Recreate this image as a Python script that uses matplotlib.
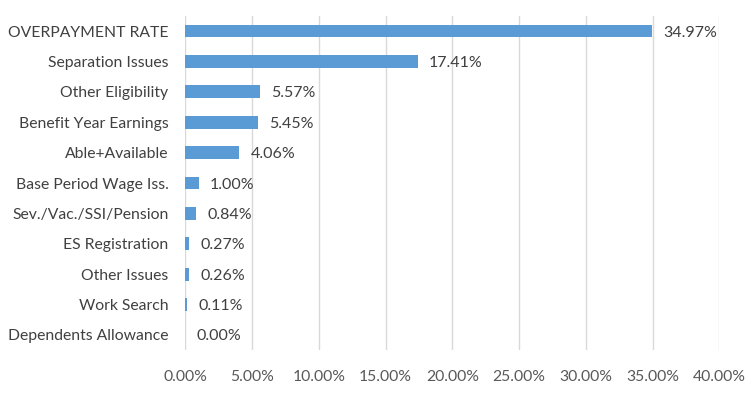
import matplotlib
matplotlib.use("Agg")
import matplotlib.pyplot as plt
from matplotlib.ticker import FuncFormatter

categories = ["OVERPAYMENT RATE", "Separation Issues", "Other Eligibility",
              "Benefit Year Earnings", "Able+Available", "Base Period Wage Iss.",
              "Sev./Vac./SSI/Pension", "ES Registration", "Other Issues",
              "Work Search", "Dependents Allowance"]
rates = [34.97, 17.41, 5.57, 5.45, 4.06, 1.00, 0.84, 0.27, 0.26, 0.11, 0.00]
xticks = [0, 5, 10, 15, 20, 25, 30, 35, 40]

plt.rcParams['font.family'] = ['Lato', 'DejaVu Sans']

fig = plt.figure(figsize=(7.5, 3.97), dpi=100)
ax = fig.add_axes([0.247, 0.118, 0.712, 0.842])

y = list(range(len(categories)))[::-1]
ax.barh(y, rates, height=0.42, color="#5B9BD5", zorder=3)

for yi, v in zip(y, rates):
    ax.text(v + 0.85, yi - 0.05, f"{v:.2f}%", va="center", ha="left",
            fontsize=11.5, color="#404040")

ax.set_yticks(y)
ax.set_yticklabels(categories, fontsize=11.3, color="#404040")
ax.set_ylim(-0.5, len(categories) - 0.5)
ax.set_xlim(0, 40)
ax.set_xticks(xticks)
ax.xaxis.set_major_formatter(FuncFormatter(lambda v, p: f"{v:.2f}%"))
ax.tick_params(axis="x", labelsize=11.3, labelcolor="#595959", length=0, pad=14)
ax.tick_params(axis="y", length=0, pad=12)
ax.grid(axis="x", color="#D9D9D9", linewidth=1, zorder=0)
for s in ax.spines.values():
    s.set_visible(False)

fig.savefig("out.png", dpi=100)
